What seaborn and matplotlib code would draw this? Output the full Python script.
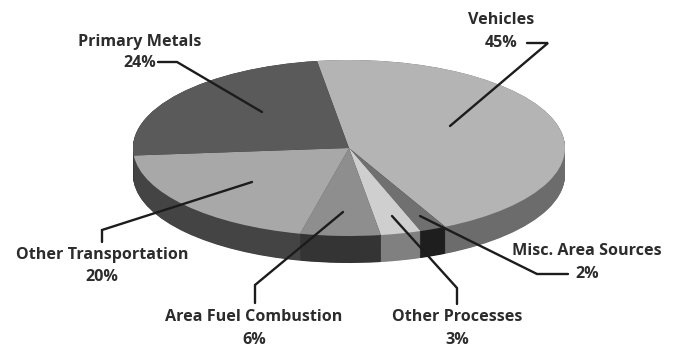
import numpy as np
import matplotlib
matplotlib.use("Agg")
import matplotlib.pyplot as plt
import seaborn as sns

# Emission shares by source, clockwise from the top of the pie
sources = ["Vehicles", "Misc. Area Sources", "Other Processes",
           "Area Fuel Combustion", "Other Transportation", "Primary Metals"]
shares = [45, 2, 3, 6, 20, 24]
top_colors = ["#b4b4b4", "#707070", "#cfcfcf", "#8e8e8e", "#a8a8a8", "#5a5a5a"]
side_colors = ["#6c6c6c", "#1e1e1e", "#808080", "#343434", "#444444", "#3a3a3a"]

sns.set_theme(style="white")
plt.rcParams["font.family"] = ["Open Sans", "DejaVu Sans"]

WIDTH, HEIGHT = 676, 350
fig = plt.figure(figsize=(WIDTH / 100, HEIGHT / 100), dpi=100, facecolor="white")

# Pie geometry on the canvas, in pixels
cx, cy, rx, ry, depth = 349, 148, 216, 88, 27
start_angle = 98.5

ax = fig.add_axes([0, 0, 1, 1])

# The rim is built by stacking copies of the pie downwards
for offset in np.linspace(depth / ry, 0.0, 2 * depth):
    ax.pie(shares, colors=side_colors, startangle=start_angle, counterclock=False,
           center=(0, -offset), radius=1, wedgeprops={"linewidth": 0})
ax.pie(shares, colors=top_colors, startangle=start_angle, counterclock=False,
       center=(0, 0), radius=1, wedgeprops={"linewidth": 0})
ax.set_aspect("auto")
ax.set_xlim(-cx / rx, (WIDTH - cx) / rx)
ax.set_ylim((cy - HEIGHT) / ry, cy / ry)

# Overlay in pixel coordinates for the labels and their leader lines
overlay = fig.add_axes([0, 0, 1, 1], facecolor="none")
overlay.set_xlim(0, WIDTH)
overlay.set_ylim(HEIGHT, 0)
overlay.axis("off")

leaders = {
    "Vehicles": [(450, 126), (548, 43), (527, 43)],
    "Misc. Area Sources": [(420, 216), (537, 274), (568, 274)],
    "Other Processes": [(392, 216), (457, 288), (457, 304)],
    "Area Fuel Combustion": [(343, 212), (255, 285), (255, 303)],
    "Other Transportation": [(252, 182), (102, 230), (102, 242)],
    "Primary Metals": [(262, 112), (177, 62), (158, 62)],
}
label_anchors = {
    "Vehicles": (501, 20, 43),
    "Misc. Area Sources": (587, 251, 274),
    "Other Processes": (457, 317, 340),
    "Area Fuel Combustion": (254, 317, 340),
    "Other Transportation": (102, 255, 277),
    "Primary Metals": (140, 42, 63),
}

for name, share in zip(sources, shares):
    xs, ys = zip(*leaders[name])
    overlay.plot(xs, ys, color="#1c1c1c", lw=1.7, solid_joinstyle="miter")
    x, y_name, y_share = label_anchors[name]
    overlay.text(x, y_name, name, ha="center", va="center", fontsize=11.6,
                 fontweight="bold", color="#2c2c2c")
    overlay.text(x, y_share, f"{share}%", ha="center", va="center", fontsize=11.6,
                 fontweight="bold", color="#2c2c2c")

fig.savefig("out.png", dpi=100, facecolor="white")
